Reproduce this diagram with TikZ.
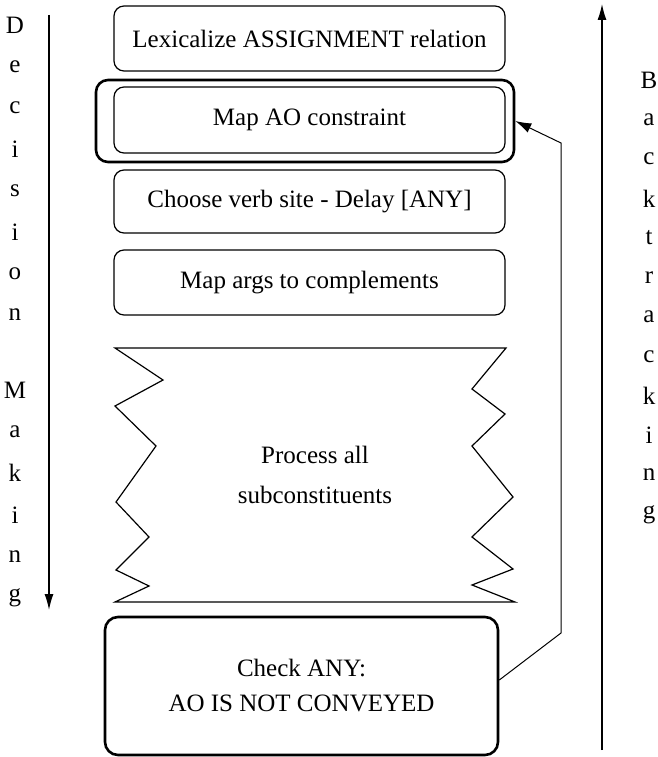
\documentclass[tikz,border=0pt]{standalone}
\usepackage{fontspec}
\setmainfont{Liberation Serif}
\usetikzlibrary{arrows.meta}

\begin{document}
\begin{tikzpicture}[x=1pt,y=-1pt,
  every node/.style={font=\fontsize{25}{35}\selectfont},
  stagebox/.style={draw, line width=1.2pt, rounded corners=10pt,
    minimum width=391pt, inner sep=0pt},
  heavybox/.style={draw, line width=2.6pt, rounded corners=12pt, inner sep=0pt},
  sideletter/.style={inner sep=0pt},
  flowarrow/.style={line width=1.3pt, -{Latex[length=16pt,width=9pt]}},
  backarrow/.style={line width=1pt, -{Latex[length=16pt,width=10pt]}}
]
\useasboundingbox (0,0) rectangle (657,757);

% the stages
\node[stagebox, minimum height=65pt] (lexicalize) at (309.5,38.5) {Lexicalize ASSIGNMENT relation};
\node[stagebox, minimum height=66pt] (mapao) at (309.5,120) {Map AO constraint};
\node[heavybox, minimum width=418pt, minimum height=82pt] (mapaoframe) at (305,121) {};
\node[stagebox, minimum height=63pt] (verbsite) at (309.5,201.5) {Choose verb site - Delay [ANY]};
\node[stagebox, minimum height=65pt] (mapargs) at (309.5,282.5) {Map args to complements};

% jagged block
\draw[line width=1.2pt] (115,348) -- (506,348)
  -- (472,389) -- (505,414) -- (472,446) -- (513,497) -- (472,537)
  -- (513,569) -- (472,585) -- (515,602)
  -- (115,602)
  -- (149,586) -- (116,570) -- (149,537) -- (116,502) -- (156,446)
  -- (115,406) -- (163,380) -- cycle;
\node[align=center, font=\fontsize{25}{40}\selectfont] (subcons) at (315,475) {Process all\\subconstituents};

\node[heavybox, rounded corners=13pt, minimum width=393pt, minimum height=138pt,
      align=center] (check) at (301.5,686) {Check ANY:\\AO IS NOT CONVEYED};

% backtrack link
\coordinate (bendlow) at (561,633);
\coordinate (bendhigh) at (561,143);
\draw[backarrow] ([yshift=6pt]check.east) -- (bendlow) -- (bendhigh) -- (mapaoframe.east);

% side arrows
\coordinate (decstart) at (49,15);
\coordinate (decend) at (49,610);
\draw[flowarrow] (decstart) -- (decend);
\coordinate (backstart) at (602,750);
\coordinate (backend) at (602,4);
\draw[flowarrow] (backstart) -- (backend);

% side labels
\foreach \ch [count=\i] in {D,e,c,i,s,i,o,n}
  \node[sideletter] (dec\i) at (15,25+41.4*\i-41.4) {\ch};
\foreach \ch [count=\i] in {M,a,k,i,n,g}
  \node[sideletter] (mak\i) at (15,390+41.6*\i-41.6) {\ch};
\foreach \ch [count=\i] in {B,a,c,k,t,r,a,c,k,i,n,g}
  \node[sideletter] (bt\i) at (649,80+39.5*\i-39.5) {\ch};
\end{tikzpicture}
\end{document}
